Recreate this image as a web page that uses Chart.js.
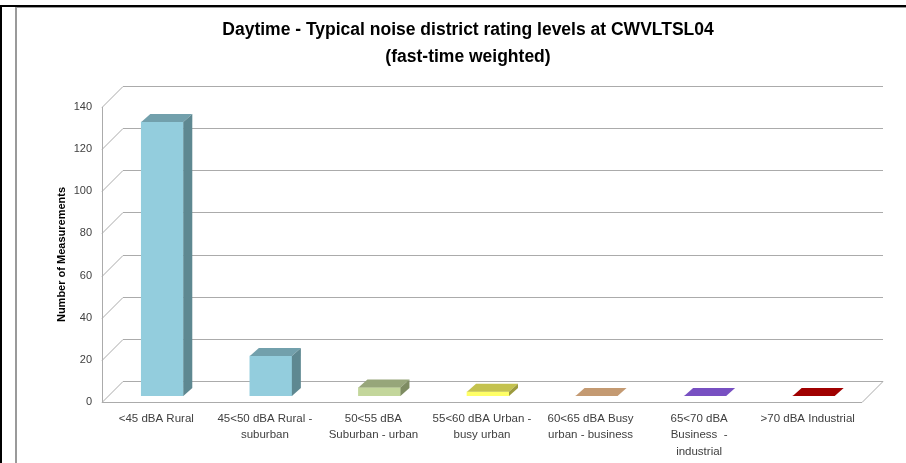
<!DOCTYPE html>
<html>
<head>
<meta charset="utf-8">
<title>Daytime noise district rating levels</title>
<script src="https://cdn.jsdelivr.net/npm/chart.js@4"></script>
<style>
  html, body { margin: 0; padding: 0; background: #fff; }
  #wrap { width: 906px; height: 463px; position: relative; }
</style>
</head>
<body>
<div id="wrap"><canvas id="noiseChart" width="906" height="463"></canvas></div>
<script>
// Chart data
const titleLines = [
  "Daytime - Typical noise district rating levels at CWVLTSL04",
  "(fast-time weighted)",
];
const categories = [
  ["<45 dBA Rural"],
  ["45<50 dBA Rural -", "suburban"],
  ["50<55 dBA", "Suburban - urban"],
  ["55<60 dBA Urban -", "busy urban"],
  ["60<65 dBA Busy", "urban - business"],
  ["65<70 dBA", "Business  -", "industrial"],
  [">70 dBA Industrial"],
];
const measurements = [130, 19, 4, 2, 0, 0, 0];
const yTicks = [0, 20, 40, 60, 80, 100, 120, 140];

// Face colours for the 3D columns (front / top / side)
const frontColors = ["#93CDDD", "#93CDDD", "#C3D69B", "#FFFF66", "#D9B28C", "#8E6BD0", "#B00000"];
const topColors = ["#72A0AC", "#72A0AC", "#97A67A", "#C4C24E", "#C49A72", "#7850C2", "#A00000"];
const sideColors = ["#5E8891", "#5E8891", "#7E8C62", "#9C9A3E", "#A8835E", "#6242A4", "#800000"];

const FONT = "'Liberation Sans', Arial, sans-serif";
const WALL_DX = 21, WALL_DY = -21; // depth of the walls / floor
const BAR_TX = 6, BAR_TY = -6;     // bars sit a little way into the floor
const BAR_DX = 9, BAR_DY = -8;     // depth of a column
const GRID = "#ABABAB";

// Frame, title, walls, gridlines and floor
const wallsPlugin = {
  id: "walls",
  beforeDraw(chart) {
    const ctx = chart.ctx;
    ctx.save();
    ctx.fillStyle = "#fff";
    ctx.fillRect(0, 0, chart.width, chart.height);
    ctx.fillStyle = "#000";
    ctx.fillRect(0, 5, chart.width, 2);
    ctx.fillRect(0, 5, 2, chart.height);
    ctx.fillStyle = "#9A9A9A";
    ctx.fillRect(15, 7, 2, chart.height);
    ctx.fillRect(15, 7, chart.width, 1);

    // title
    ctx.fillStyle = "#000";
    ctx.font = "bold 17.5px " + FONT;
    ctx.textAlign = "center";
    ctx.textBaseline = "middle";
    ctx.fillText(titleLines[0], 468, 30);
    ctx.fillText(titleLines[1], 468, 57);
    ctx.restore();
  },
  beforeDatasetsDraw(chart) {
    const ctx = chart.ctx;
    const { left, right, top, bottom } = chart.chartArea;
    const y = chart.scales.y;
    ctx.save();
    ctx.strokeStyle = GRID;
    ctx.lineWidth = 1;
    ctx.beginPath();
    yTicks.forEach((v) => {
      const yf = Math.round(y.getPixelForValue(v)) + 0.5;
      ctx.moveTo(left, yf);
      ctx.lineTo(left + WALL_DX, yf + WALL_DY);
      ctx.lineTo(right + WALL_DX, yf + WALL_DY);
    });
    // front edge of side wall
    ctx.moveTo(left + 0.5, Math.round(top));
    ctx.lineTo(left + 0.5, Math.round(bottom));
    // floor front and right edges
    const yb = Math.round(bottom) + 0.5;
    ctx.moveTo(left, yb);
    ctx.lineTo(right, yb);
    ctx.lineTo(right + WALL_DX, yb + WALL_DY);
    ctx.stroke();
    ctx.restore();

    // shift the columns back into the floor
    ctx.save();
    ctx.translate(BAR_TX, BAR_TY);
  },
  afterDatasetsDraw(chart) {
    const ctx = chart.ctx;
    const meta = chart.getDatasetMeta(0);
    meta.data.forEach((bar, i) => {
      const { x, y, base, width } = bar.getProps(["x", "y", "base", "width"], true);
      const l = x - width / 2, r = x + width / 2;
      // top face
      ctx.fillStyle = topColors[i];
      ctx.beginPath();
      ctx.moveTo(l, y);
      ctx.lineTo(r, y);
      ctx.lineTo(r + BAR_DX, y + BAR_DY);
      ctx.lineTo(l + BAR_DX, y + BAR_DY);
      ctx.closePath();
      ctx.fill();
      // side face
      if (base - y > 0.5) {
        ctx.fillStyle = sideColors[i];
        ctx.beginPath();
        ctx.moveTo(r, y);
        ctx.lineTo(r + BAR_DX, y + BAR_DY);
        ctx.lineTo(r + BAR_DX, base + BAR_DY);
        ctx.lineTo(r, base);
        ctx.closePath();
        ctx.fill();
      }
    });
    ctx.restore();
  },
};

const ctx = document.getElementById("noiseChart").getContext("2d");
new Chart(ctx, {
  type: "bar",
  data: {
    labels: categories,
    datasets: [
      {
        label: "Number of Measurements",
        data: measurements,
        backgroundColor: frontColors,
        borderWidth: 0,
        barThickness: 42,
      },
    ],
  },
  options: {
    responsive: false,
    animation: false,
    layout: { padding: { left: 0, right: 44, top: 107, bottom: 0 } },
    plugins: {
      legend: { display: false },
      tooltip: { enabled: false },
      title: { display: false },
    },
    scales: {
      x: {
        grid: { display: false, drawTicks: false },
        border: { display: false },
        ticks: {
          color: "#404040",
          font: { family: FONT, size: 11.5, lineHeight: 1.45 },
          padding: 8,
          maxRotation: 0,
          autoSkip: false,
        },
        afterFit: (scale) => { scale.height = 61; },
      },
      y: {
        min: 0,
        max: 140,
        grid: { display: false, drawTicks: false },
        border: { display: false },
        ticks: {
          stepSize: 20,
          color: "#404040",
          font: { family: FONT, size: 11 },
          padding: 10,
        },
        title: {
          display: true,
          text: "Number of Measurements",
          color: "#000",
          font: { family: FONT, size: 11, weight: "bold" },
          padding: { top: 55, bottom: 0 },
        },
        afterFit: (scale) => { scale.width = 102; },
      },
    },
  },
  plugins: [wallsPlugin],
});
</script>
</body>
</html>
